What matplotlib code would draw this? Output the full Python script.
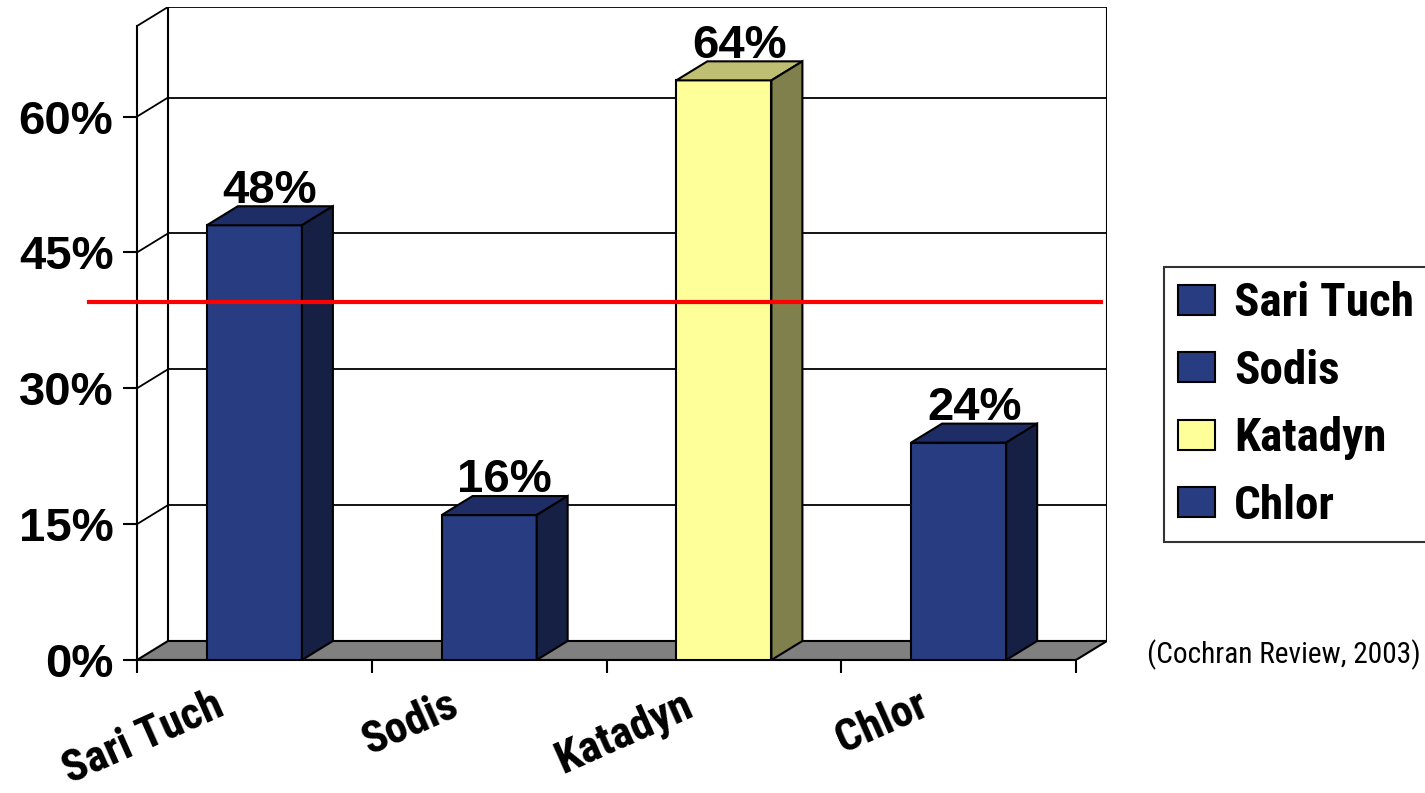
import matplotlib
matplotlib.use('Agg')
import matplotlib.pyplot as plt
from matplotlib import font_manager
from matplotlib.patches import Polygon

categories = ['Sari Tuch', 'Sodis', 'Katadyn', 'Chlor']
values = [48, 16, 64, 24]
threshold = 39.5
yticks = [0, 15, 30, 45, 60]
ymax = 70
source = '(Cochran Review, 2003)'

front_colors = ['#283C82', '#283C82', '#FFFF99', '#283C82']
top_colors = ['#1F2D66', '#1F2D66', '#BFBF73', '#1F2D66']
side_colors = ['#161F44', '#161F44', '#80804C', '#161F44']

wide = ['Liberation Sans', 'DejaVu Sans']


def pick_narrow():
    # look for a condensed bold face, the original uses a condensed font
    fonts = font_manager.fontManager.ttflist
    for fam in ['Roboto Condensed', 'Liberation Sans Narrow', 'Open Sans Condensed']:
        if any(f.name == fam for f in fonts):
            return fam, 'normal'
    for fam in ['Noto Sans', 'DejaVu Sans', 'Open Sans', 'Roboto']:
        for f in fonts:
            if f.name == fam and 'condensed' in str(f.stretch):
                return fam, 'condensed'
    return 'Liberation Sans', 'normal'


narrow, stretch = pick_narrow()

# 3d depth of the plot, in data units
dx = 0.132
dy = 2.1
bw = 0.405

fig = plt.figure(figsize=(14.25, 7.93), dpi=100)
renderer = fig.canvas.get_renderer()


def fit_size(text, target_px, size, weight):
    t = fig.text(0, 0, text, fontsize=size, fontweight=weight, family=narrow,
                 fontstretch=stretch)
    w = t.get_window_extent(renderer).width
    t.remove()
    return min(size, size * target_px / w)


label_size = fit_size('Sari Tuch', 180, 34, 'bold')
source_size = fit_size(source, 273, 26, 'normal')

ax = fig.add_axes([137 / 1425, 133 / 793, 970 / 1425, 653 / 793])
ax.set_xlim(-0.5, 3.5 + dx)
ax.set_ylim(0, ymax + dy)
ax.patch.set_visible(False)

left = -0.5
right = len(categories) - 0.5

# back wall + left wall
for v in yticks[1:] + [ymax]:
    ax.plot([left + dx, right + dx], [v + dy, v + dy], color='black', lw=1.3, zorder=1)
    ax.plot([left, left + dx], [v, v + dy], color='black', lw=1.3, zorder=1)
ax.plot([left + dx, left + dx], [dy, ymax + dy], color='black', lw=1.5, zorder=1)
ax.plot([right + dx, right + dx], [dy, ymax + dy], color='black', lw=1.5, zorder=1)

# floor
floor = Polygon([(left, 0), (right, 0), (right + dx, dy), (left + dx, dy)],
                closed=True, facecolor='#808080', edgecolor='black', lw=1.5, zorder=1.5)
ax.add_patch(floor)

# bars
for i, (name, v) in enumerate(zip(categories, values)):
    ax.bar(i, v, width=bw, color=front_colors[i], edgecolor='black', lw=1.5,
           label=name, zorder=3)
    x0, x1 = i - bw / 2, i + bw / 2
    top = Polygon([(x0, v), (x1, v), (x1 + dx, v + dy), (x0 + dx, v + dy)],
                  closed=True, facecolor=top_colors[i], edgecolor='black', lw=1.5, zorder=3)
    side = Polygon([(x1, 0), (x1 + dx, dy), (x1 + dx, v + dy), (x1, v)],
                   closed=True, facecolor=side_colors[i], edgecolor='black', lw=1.5, zorder=3)
    ax.add_patch(top)
    ax.add_patch(side)
    ax.text(i + dx / 2, v + dy + 0.4, f'{v}%', ha='center', va='baseline',
            fontsize=34, fontweight='bold', family=wide, zorder=5)
    ax.annotate(name, xy=(i, 0), xytext=(-20, -39), textcoords='offset points',
                ha='right', va='baseline', rotation=24, rotation_mode='anchor',
                fontsize=label_size * 0.95, fontweight='bold', family=narrow,
                fontstretch=stretch, annotation_clip=False)

# red reference line
ax.plot([left - 0.205, right + 0.106], [threshold, threshold], color='#FF0000',
        lw=3, zorder=4, clip_on=False)

# axes
for s in ['top', 'right']:
    ax.spines[s].set_visible(False)
ax.spines['left'].set_bounds(0, ymax)
ax.spines['bottom'].set_bounds(left, right)
ax.spines['left'].set_linewidth(1.5)
ax.spines['bottom'].set_linewidth(1.5)

ax.set_yticks(yticks)
ax.set_yticklabels([f'{t}%' for t in yticks], fontsize=34, fontweight='bold', family=wide)
ax.tick_params(axis='y', direction='out', length=10, width=1.5, pad=7)

ax.set_xticks([left + k for k in range(len(categories) + 1)])
ax.set_xticklabels([])
ax.tick_params(axis='x', direction='out', length=9, width=1.5)

leg = ax.legend(loc='upper left', bbox_to_anchor=(1164 / 1425, 1 - 267 / 793),
                bbox_transform=fig.transFigure, frameon=True, fancybox=False,
                prop={'family': narrow, 'weight': 'bold', 'size': label_size,
                      'stretch': stretch},
                handlelength=0.78, handleheight=0.6, handletextpad=0.4,
                labelspacing=0.5, borderpad=0.3, borderaxespad=0)
leg.get_frame().set_edgecolor('black')
leg.get_frame().set_linewidth(1.5)

fig.text(1147 / 1425, 1 - 655 / 793, source, ha='left', va='center',
         fontsize=source_size, family=narrow, fontstretch=stretch)

fig.savefig('out.png', dpi=100)
